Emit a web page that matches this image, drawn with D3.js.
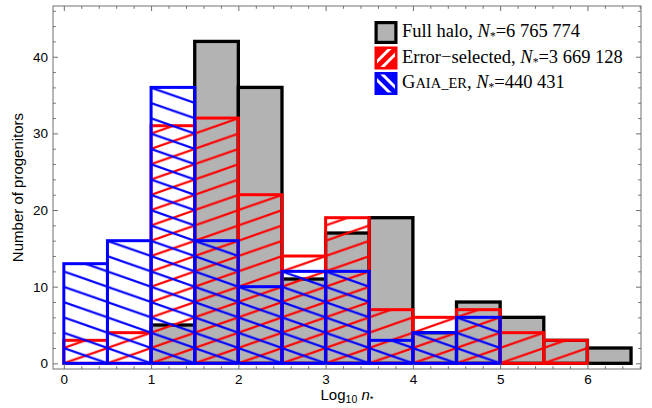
<!DOCTYPE html>
<html>
<head>
<meta charset="utf-8">
<script src="https://cdn.jsdelivr.net/npm/d3@7/dist/d3.min.js"></script>
<style>
  body { margin: 0; background: #fff; }
  svg { display: block; }
</style>
</head>
<body>
<script>
// Histogram of progenitor counts per Log10 n* bin (bin width 0.5)
const binStarts = [0, 0.5, 1, 1.5, 2, 2.5, 3, 3.5, 4, 4.5, 5, 5.5, 6];
const binWidth = 0.5;
const fullHalo      = [0, 0, 5, 42, 36, 11, 17, 19, 4, 8, 6, 3, 2];
const errorSelected = [3, 4, 31, 32, 22, 14, 19, 7, 6, 7, 4, 3, 0];
const gaiaER        = [13, 16, 36, 16, 10, 12, 12, 3, 4, 6, 0, 0, 0];

const xTickValues = [0, 1, 2, 3, 4, 5, 6];
const yTickValues = [0, 10, 20, 30, 40];
const legendNames = ["Full halo", "Error\u2212selected", "GAIA_ER"];
const legendCounts = ["6 765 774", "3 669 128", "440 431"];

const W = 652, H = 408;
const frame = { left: 53, right: 641, top: 6, bottom: 369 };
const GRAY = "#b3b3b3", RED = "#ff0000", BLUE = "#0000ff", FRAME = "#707070";

const x = d3.scaleLinear().domain([-0.124, 6.614]).range([frame.left, frame.right]);
const y = d3.scaleLinear().domain([-0.74, 46.62]).range([frame.bottom, frame.top]);

const svg = d3.select("body").append("svg").attr("width", W).attr("height", H);
const defs = svg.append("defs");

// Hatch tiles: one line per bin width, lines meet the baseline at bin edges
const tileW = x(binWidth) - x(0);
const tileH = tileW * 0.351;
function hatch(id, color, rising) {
  const p = defs.append("pattern")
    .attr("id", id)
    .attr("patternUnits", "userSpaceOnUse")
    .attr("x", x(0)).attr("y", y(0))
    .attr("width", tileW).attr("height", tileH);
  [-1, 0, 1].forEach(k => {
    const y0 = rising ? tileH + k * tileH : k * tileH;
    const y1 = rising ? k * tileH : tileH + k * tileH;
    p.append("line")
      .attr("x1", 0).attr("y1", y0)
      .attr("x2", tileW).attr("y2", y1)
      .attr("stroke", color).attr("stroke-width", 2.1);
  });
}
hatch("hatch-red", RED, true);
hatch("hatch-blue", BLUE, false);

// Bars
function drawBars(values, fill, stroke, width) {
  const data = binStarts.map((b, i) => ({ b, v: values[i] })).filter(d => d.v > 0);
  svg.append("g").selectAll("rect").data(data).join("rect")
    .attr("x", d => x(d.b))
    .attr("y", d => y(d.v))
    .attr("width", d => x(d.b + binWidth) - x(d.b))
    .attr("height", d => y(0) - y(d.v))
    .attr("fill", fill)
    .attr("stroke", stroke)
    .attr("stroke-width", width);
}
drawBars(fullHalo, GRAY, "#000", 3.3);
drawBars(errorSelected, "url(#hatch-red)", RED, 3);
drawBars(gaiaER, "url(#hatch-blue)", BLUE, 3);

// Frame and ticks (inward, on all four sides)
const majorLen = 5, minorLen = 2.8;
const xMinor = d3.range(0, 6.61, 0.2).map(v => +v.toFixed(1)).filter(v => !xTickValues.includes(v));
const yMinor = d3.range(0, 47, 2).filter(v => !yTickValues.includes(v));
const sans = "'Liberation Sans', Arial, sans-serif";

function axisLayer(axis, transform) {
  const g = svg.append("g").attr("transform", transform).call(axis);
  g.select(".domain").remove();
  g.selectAll(".tick line").attr("stroke", FRAME).attr("stroke-width", 1);
  g.selectAll("text").attr("font-family", sans)
    .attr("font-size", 13.5).attr("fill", "#000");
  return g;
}
const fmt = d3.format("d");
axisLayer(d3.axisBottom(x).tickValues(xTickValues).tickSize(-majorLen).tickPadding(5).tickFormat(fmt),
  `translate(0,${frame.bottom})`);
axisLayer(d3.axisBottom(x).tickValues(xMinor).tickSize(-minorLen).tickFormat(""),
  `translate(0,${frame.bottom})`);
axisLayer(d3.axisTop(x).tickValues(xTickValues).tickSize(-majorLen).tickFormat(""),
  `translate(0,${frame.top})`);
axisLayer(d3.axisTop(x).tickValues(xMinor).tickSize(-minorLen).tickFormat(""),
  `translate(0,${frame.top})`);
axisLayer(d3.axisLeft(y).tickValues(yTickValues).tickSize(-majorLen).tickPadding(5).tickFormat(fmt),
  `translate(${frame.left},0)`);
axisLayer(d3.axisLeft(y).tickValues(yMinor).tickSize(-minorLen).tickFormat(""),
  `translate(${frame.left},0)`);
axisLayer(d3.axisRight(y).tickValues(yTickValues).tickSize(-majorLen).tickFormat(""),
  `translate(${frame.right},0)`);
axisLayer(d3.axisRight(y).tickValues(yMinor).tickSize(-minorLen).tickFormat(""),
  `translate(${frame.right},0)`);

svg.append("rect")
  .attr("x", frame.left).attr("y", frame.top)
  .attr("width", frame.right - frame.left).attr("height", frame.bottom - frame.top)
  .attr("fill", "none").attr("stroke", FRAME).attr("stroke-width", 1);

// Axis titles
const xt = svg.append("text")
  .attr("x", (frame.left + frame.right) / 2).attr("y", 399.5)
  .attr("text-anchor", "middle")
  .attr("font-family", sans).attr("font-size", 15);
xt.append("tspan").text("Log");
xt.append("tspan").attr("font-size", 10.5).attr("dy", 3).text("10");
xt.append("tspan").attr("dy", -3).text(" ");
xt.append("tspan").attr("font-style", "italic").text("n");
xt.append("tspan").attr("font-size", 9.5).attr("dy", 2).text("*");

svg.append("text")
  .attr("transform", "rotate(-90)")
  .attr("x", -(frame.top + frame.bottom) / 2).attr("y", 23)
  .attr("text-anchor", "middle")
  .attr("font-family", sans).attr("font-size", 15)
  .text("Number of progenitors");

// Legend
const serif = "'Liberation Serif', 'Times New Roman', serif";
const lgX = 374.5, sw = 23;
const lgTop = [21, 46.5, 72];
const lgBase = [37, 62.5, 88];

// swatch: full halo
svg.append("rect")
  .attr("x", lgX + 1.6).attr("y", lgTop[0] + 1.6)
  .attr("width", sw - 3.2).attr("height", sw - 3.2)
  .attr("fill", GRAY).attr("stroke", "#000").attr("stroke-width", 3.2);

function stripedSwatch(i, color, rising) {
  const id = "lg-clip-" + i;
  defs.append("clipPath").attr("id", id).append("rect")
    .attr("x", lgX + 2.5).attr("y", lgTop[i] + 2.5)
    .attr("width", sw - 5).attr("height", sw - 5);
  svg.append("rect")
    .attr("x", lgX).attr("y", lgTop[i]).attr("width", sw).attr("height", sw)
    .attr("fill", color);
  const g = svg.append("g").attr("clip-path", `url(#${id})`);
  const cx = lgX + sw / 2, cy = lgTop[i] + sw / 2;
  [-5.5, 5.5].forEach(o => {
    const s = rising ? -1 : 1;
    g.append("line")
      .attr("x1", cx - 20 + o).attr("y1", cy - s * 20)
      .attr("x2", cx + 20 + o).attr("y2", cy + s * 20)
      .attr("stroke", "#fff").attr("stroke-width", 3);
  });
}
stripedSwatch(1, RED, true);
stripedSwatch(2, BLUE, false);

legendNames.forEach((name, i) => {
  const t = svg.append("text")
    .attr("x", 402).attr("y", lgBase[i])
    .attr("font-family", serif).attr("font-size", 18.5).attr("fill", "#000");
  if (name === "GAIA_ER") {
    t.append("tspan").text("G");
    t.append("tspan").attr("font-size", 14.5).text("AIA_ER");
  } else {
    t.append("tspan").text(name);
  }
  t.append("tspan").text(", ");
  t.append("tspan").attr("font-style", "italic").text("N");
  t.append("tspan").attr("font-size", 11.5).attr("dy", 3).text("*");
  t.append("tspan").attr("dy", -3).text("=" + legendCounts[i]);
});
</script>
</body>
</html>
